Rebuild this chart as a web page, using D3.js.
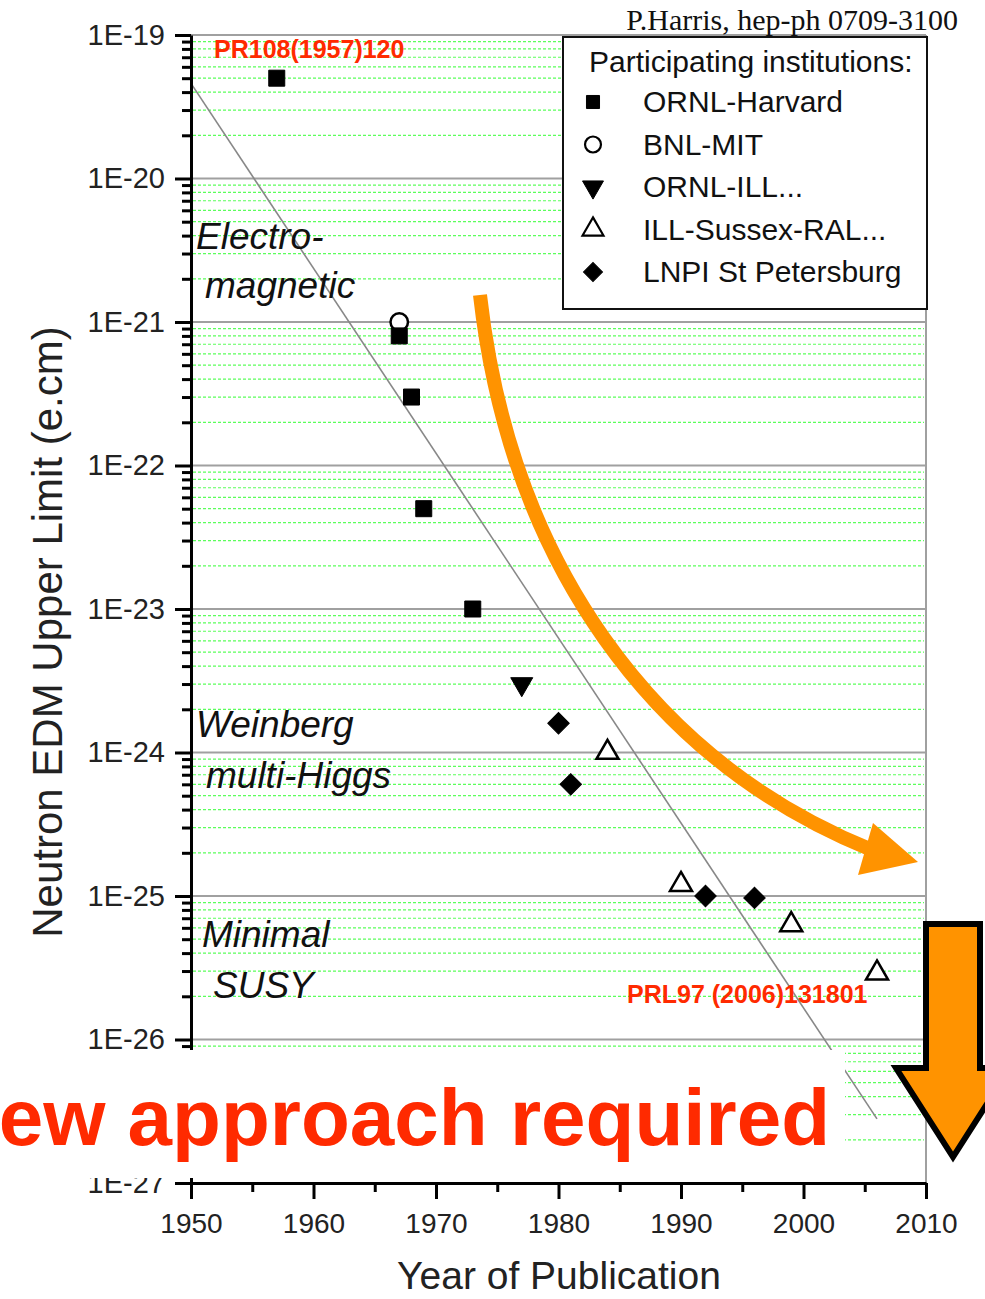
<!DOCTYPE html>
<meta charset="utf-8">
<style>
  body { margin: 0; background: #fff; }
  svg { display: block; font-family: "Liberation Sans", Arial, sans-serif; }
  .minor { stroke: #3f3; stroke-width: 1.2; stroke-dasharray: 3,2; opacity: 0.8; }
  .major { stroke: #a0a0a0; stroke-width: 2; }
  .axis path, .axis line { stroke: #000; stroke-width: 3; }
  .axis text { font-family: "Liberation Sans", Arial, sans-serif; fill: #222; }
  .theory { font-style: italic; font-size: 37px; fill: #111; }
  .ref { font-weight: bold; font-size: 25px; fill: #ff2a00; }
  .legend text { font-size: 30px; fill: #111; }
</style>

<svg width="985" height="1299"></svg>

<script src="https://d3js.org/d3.v7.min.js"></script>

<script>

  //
  // Data
  //

  var xTicks = [1950, 1960, 1970, 1980, 1990, 2000, 2010];
  var xMinorTicks = [1955, 1965, 1975, 1985, 1995, 2005];
  var yDecades = [-27, -26, -25, -24, -23, -22, -21, -20, -19];

  var ornlHarvardYears = [1957, 1967, 1968, 1969, 1973];
  var ornlHarvardLimits = [5e-20, 8e-22, 3e-22, 5e-23, 1e-23];

  var bnlMitYears = [1967];
  var bnlMitLimits = [1e-21];

  var ornlIllYears = [1977];
  var ornlIllLimits = [3e-24];

  var illSussexYears = [1984, 1990, 1999, 2006];
  var illSussexLimits = [1e-24, 1.2e-25, 6.3e-26, 2.9e-26];

  var lnpiYears = [1980, 1981, 1992, 1996];
  var lnpiLimits = [1.6e-24, 6e-25, 1e-25, 9.7e-26];

  // straight trend line through the points
  var fitYears = [1950, 2006];
  var fitLimits = [4.6e-20, 2.8e-27];

  var legendNames = ["ORNL-Harvard", "BNL-MIT", "ORNL-ILL...", "ILL-Sussex-RAL...", "LNPI St Petersburg"];

  //
  // Scales
  //

  var svg = d3.select("svg");

  var x = d3.scaleLinear()
    .domain([1950, 2010])
    .range([191, 926]);

  var y = d3.scaleLog()
    .domain([1e-27, 1e-19])
    .range([1183, 35]);

  var majorY = yDecades.map(d => +("1e" + d));
  var minorY = [];
  yDecades.slice(0, -1).forEach(d => {
    for (var k = 2; k < 10; k++) minorY.push(+(k + "e" + d));
  });

  //
  // Grid
  //

  svg.append("g")
    .selectAll("line")
    .data(minorY)
    .enter().append("line")
    .attr("class", "minor")
    .attr("x1", x(1950) + 2)
    .attr("x2", x(2010) - 2)
    .attr("y1", d => y(d))
    .attr("y2", d => y(d));

  svg.append("g")
    .selectAll("line")
    .data(majorY.slice(1))
    .enter().append("line")
    .attr("class", "major")
    .attr("x1", x(1950))
    .attr("x2", x(2010))
    .attr("y1", d => y(d))
    .attr("y2", d => y(d));

  // right border of the frame
  svg.append("line")
    .attr("class", "major")
    .attr("x1", x(2010)).attr("x2", x(2010))
    .attr("y1", y(1e-19)).attr("y2", y(1e-27));

  //
  // Trend line
  //

  svg.append("path")
    .datum(fitYears.map((d, i) => [d, fitLimits[i]]))
    .attr("fill", "none")
    .attr("stroke", "#888")
    .attr("stroke-width", 1.6)
    .attr("d", d3.line().x(d => x(d[0])).y(d => y(d[1])));

  //
  // Axes
  //

  var fmt = d => "1E" + Math.round(Math.log10(d));

  svg.append("g")
    .attr("class", "axis")
    .attr("transform", "translate(" + x(1950) + ",0)")
    .call(d3.axisLeft(y).tickValues(minorY).tickSize(9).tickFormat(""))
    .select(".domain").remove();

  var yAxis = svg.append("g")
    .attr("class", "axis")
    .attr("transform", "translate(" + x(1950) + ",0)")
    .call(d3.axisLeft(y).tickValues(majorY).tickSize(16).tickSizeOuter(0).tickPadding(10).tickFormat(fmt));
  yAxis.selectAll("text").attr("font-size", 29);

  svg.append("g")
    .attr("class", "axis")
    .attr("transform", "translate(0," + y(1e-27) + ")")
    .call(d3.axisBottom(x).tickValues(xMinorTicks).tickSize(9).tickFormat(""))
    .select(".domain").remove();

  var xAxis = svg.append("g")
    .attr("class", "axis")
    .attr("transform", "translate(0," + y(1e-27) + ")")
    .call(d3.axisBottom(x).tickValues(xTicks).tickSize(16).tickSizeOuter(0).tickPadding(14).tickFormat(d3.format("d")));
  xAxis.selectAll("text").attr("font-size", 28);

  svg.append("text")
    .attr("x", 559)
    .attr("y", 1289)
    .attr("text-anchor", "middle")
    .attr("font-size", 39)
    .attr("fill", "#222")
    .text("Year of Publication");

  svg.append("text")
    .attr("transform", "translate(62,632) rotate(-90)")
    .attr("text-anchor", "middle")
    .attr("font-size", 42)
    .attr("fill", "#222")
    .text("Neutron EDM Upper Limit (e.cm)");

  //
  // Theory labels and references
  //

  var theory = [["Electro-", 196, 249], ["magnetic", 205, 298], ["Weinberg", 196, 737], ["multi-Higgs", 206, 788],
    ["Minimal", 202, 947], ["SUSY", 213, 998]];

  svg.append("g")
    .selectAll("text")
    .data(theory)
    .enter().append("text")
    .attr("class", "theory")
    .attr("x", d => d[1])
    .attr("y", d => d[2])
    .text(d => d[0]);

  svg.append("text").attr("class", "ref").attr("x", 214).attr("y", 58).text("PR108(1957)120");
  svg.append("text").attr("class", "ref").attr("x", 627).attr("y", 1003).text("PRL97 (2006)131801");

  svg.append("text")
    .attr("x", 958)
    .attr("y", 30)
    .attr("text-anchor", "end")
    .attr("font-family", "'Liberation Serif', 'Times New Roman', serif")
    .attr("font-size", 30)
    .attr("fill", "#111")
    .text("P.Harris, hep-ph 0709-3100");

  //
  // Markers
  //

  var square = d3.symbol().type(d3.symbolSquare).size(256)();
  var circle = d3.symbol().type(d3.symbolCircle).size(240)();
  var tri = d3.symbol().type(d3.symbolTriangle).size(210)();
  var diamond = d3.symbol().type(d3.symbolSquare).size(230)();

  var series = [
    { years: ornlHarvardYears, limits: ornlHarvardLimits, path: square, rot: 0, fill: "#000" },
    { years: bnlMitYears, limits: bnlMitLimits, path: circle, rot: 0, fill: "#fff" },
    { years: ornlIllYears, limits: ornlIllLimits, path: tri, rot: 180, fill: "#000" },
    { years: illSussexYears, limits: illSussexLimits, path: tri, rot: 0, fill: "#fff" },
    { years: lnpiYears, limits: lnpiLimits, path: diamond, rot: 45, fill: "#000" }
  ];

  // ORNL-Harvard drawn after BNL-MIT so the square sits on the circle
  [1, 0, 2, 3, 4].forEach(i => {
    var s = series[i];
    svg.append("g")
      .selectAll("path")
      .data(s.years.map((d, j) => [d, s.limits[j]]))
      .enter().append("path")
      .attr("d", s.path)
      .attr("transform", d => "translate(" + x(d[0]) + "," + y(d[1]) + ") rotate(" + s.rot + ")")
      .attr("fill", s.fill)
      .attr("stroke", "#000")
      .attr("stroke-width", s.fill == "#fff" ? 2.5 : 1);
  });

  //
  // Legend
  //

  var legend = svg.append("g").attr("class", "legend");

  legend.append("rect")
    .attr("x", 563).attr("y", 37)
    .attr("width", 364).attr("height", 272)
    .attr("fill", "#fff")
    .attr("stroke", "#111")
    .attr("stroke-width", 2);

  legend.append("text").attr("x", 589).attr("y", 72).text("Participating institutions:");

  var smallSquare = d3.symbol().type(d3.symbolSquare).size(170)();
  var smallCircle = d3.symbol().type(d3.symbolCircle).size(200)();
  var smallTri = d3.symbol().type(d3.symbolTriangle).size(190)();
  var smallDiamond = d3.symbol().type(d3.symbolSquare).size(180)();
  var legendMarks = [[smallSquare, 0, "#000"], [smallCircle, 0, "#fff"], [smallTri, 180, "#000"], [smallTri, 0, "#fff"], [smallDiamond, 45, "#000"]];

  legendNames.forEach((name, i) => {
    var yy = 112 + i * 42.5;
    legend.append("path")
      .attr("d", legendMarks[i][0])
      .attr("transform", "translate(593," + (yy - 10) + ") rotate(" + legendMarks[i][1] + ")")
      .attr("fill", legendMarks[i][2])
      .attr("stroke", "#000")
      .attr("stroke-width", legendMarks[i][2] == "#fff" ? 2.2 : 1);
    legend.append("text").attr("x", 643).attr("y", yy).text(name);
  });

  //
  // Orange arrows and the banner
  //

  svg.append("path")
    .attr("d", "M480,295 C510,560 650,760 872,850")
    .attr("fill", "none")
    .attr("stroke", "#ff9300")
    .attr("stroke-width", 14);

  svg.append("polygon")
    .attr("points", "873,823 918,862 858,875")
    .attr("fill", "#ff9300");

  // white banner that hides the bottom of the plot
  svg.append("rect")
    .attr("x", 0).attr("y", 1050)
    .attr("width", 845).attr("height", 128)
    .attr("fill", "#fff");

  svg.append("text")
    .attr("x", 830)
    .attr("y", 1145)
    .attr("text-anchor", "end")
    .attr("font-weight", "bold")
    .attr("font-size", 80)
    .attr("fill", "#ff2a00")
    .text("New approach required");

  svg.append("polygon")
    .attr("points", "926,924 980,924 980,1068 1010,1068 953,1157 896,1068 926,1068")
    .attr("fill", "#ff9300")
    .attr("stroke", "#000")
    .attr("stroke-width", 6)
    .attr("stroke-linejoin", "miter");

</script>
